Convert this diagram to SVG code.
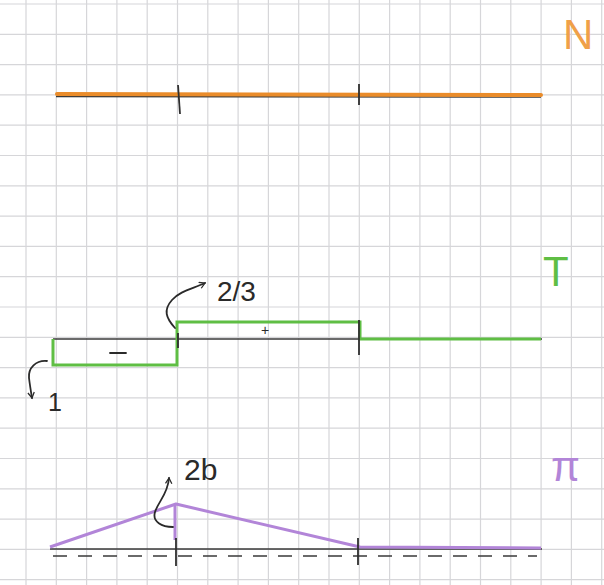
<svg xmlns="http://www.w3.org/2000/svg" width="604" height="585" viewBox="0 0 604 585">
<style>
.grid line{stroke:#d6d6d9;stroke-width:1.2}
.axis{stroke:#3a3a3a;stroke-width:1.6;fill:none}
.tick{stroke:#2e2e2e;stroke-width:1.8;fill:none}
.n{stroke:#ea8c2a;stroke-width:4;fill:none;stroke-linecap:round}
.t{stroke:#5fbe44;stroke-width:3;fill:none;stroke-linejoin:miter}
.m{stroke:#b285d8;stroke-width:3;fill:none;stroke-linejoin:round}
.pen{stroke:#2a2a2a;stroke-width:1.8;fill:none;stroke-linecap:round;stroke-linejoin:round}
.lbl{font-family:"Liberation Sans",Arial,sans-serif;fill:#2a2a2a}
.title{font-family:"Liberation Sans",Arial,sans-serif;font-size:42px}
</style>
<defs>
<marker id="ah" viewBox="0 0 10 10" refX="8" refY="5" markerWidth="8" markerHeight="8" orient="auto" markerUnits="userSpaceOnUse">
<path d="M1,1 L8,5 L1,9" fill="none" stroke="#2a2a2a" stroke-width="1.6"/>
</marker>
</defs>
<rect width="604" height="585" fill="#ffffff"/>
<g class="grid">
<line x1="26" y1="0" x2="26" y2="585"/><line x1="56.3" y1="0" x2="56.3" y2="585"/><line x1="86.6" y1="0" x2="86.6" y2="585"/><line x1="116.9" y1="0" x2="116.9" y2="585"/><line x1="147.2" y1="0" x2="147.2" y2="585"/><line x1="177.5" y1="0" x2="177.5" y2="585"/><line x1="207.8" y1="0" x2="207.8" y2="585"/><line x1="238.1" y1="0" x2="238.1" y2="585"/><line x1="268.4" y1="0" x2="268.4" y2="585"/><line x1="298.7" y1="0" x2="298.7" y2="585"/><line x1="329" y1="0" x2="329" y2="585"/><line x1="359.3" y1="0" x2="359.3" y2="585"/><line x1="389.6" y1="0" x2="389.6" y2="585"/><line x1="419.9" y1="0" x2="419.9" y2="585"/><line x1="450.2" y1="0" x2="450.2" y2="585"/><line x1="480.5" y1="0" x2="480.5" y2="585"/><line x1="510.8" y1="0" x2="510.8" y2="585"/><line x1="541.1" y1="0" x2="541.1" y2="585"/><line x1="571.4" y1="0" x2="571.4" y2="585"/><line x1="601.7" y1="0" x2="601.7" y2="585"/>
<line x1="0" y1="4" x2="604" y2="4"/><line x1="0" y1="34.3" x2="604" y2="34.3"/><line x1="0" y1="64.6" x2="604" y2="64.6"/><line x1="0" y1="94.9" x2="604" y2="94.9"/><line x1="0" y1="125.2" x2="604" y2="125.2"/><line x1="0" y1="155.5" x2="604" y2="155.5"/><line x1="0" y1="185.8" x2="604" y2="185.8"/><line x1="0" y1="216.1" x2="604" y2="216.1"/><line x1="0" y1="246.4" x2="604" y2="246.4"/><line x1="0" y1="276.7" x2="604" y2="276.7"/><line x1="0" y1="307" x2="604" y2="307"/><line x1="0" y1="337.3" x2="604" y2="337.3"/><line x1="0" y1="367.6" x2="604" y2="367.6"/><line x1="0" y1="397.9" x2="604" y2="397.9"/><line x1="0" y1="428.2" x2="604" y2="428.2"/><line x1="0" y1="458.5" x2="604" y2="458.5"/><line x1="0" y1="488.8" x2="604" y2="488.8"/><line x1="0" y1="519.1" x2="604" y2="519.1"/><line x1="0" y1="549.4" x2="604" y2="549.4"/><line x1="0" y1="579.7" x2="604" y2="579.7"/>
</g>

<g id="diagram-N">
<line class="axis" x1="56" y1="96.5" x2="541" y2="97"/>
<line class="n" x1="57" y1="94" x2="541" y2="95"/>
<line class="tick" x1="178" y1="85" x2="180" y2="114"/>
<line class="tick" x1="359" y1="84" x2="359" y2="105"/>
<text class="title" x="563" y="49" fill="#f0a048">N</text>
</g>

<g id="diagram-T">
<line class="axis" x1="53" y1="339" x2="542" y2="339"/>
<polyline class="t" points="53,339 53,365 177,365 177,322 360,322 360,339 541,339"/>
<line class="tick" x1="178" y1="333" x2="178" y2="348"/>
<line class="tick" x1="359" y1="320" x2="359" y2="355"/>
<line class="pen" x1="110" y1="353" x2="126" y2="353"/>
<text class="lbl" x="261" y="335" font-size="14">+</text>
<path class="pen" d="M175,328 C166,318 163,310 172,300 C180,291 192,289 205,283" marker-end="url(#ah)"/>
<text class="lbl" x="217" y="301" font-size="28">2/3</text>
<path class="pen" d="M47,361 C36,360 28,368 29,378 C30,386 31,392 32,398" marker-end="url(#ah)"/>
<text class="lbl" x="48" y="411" font-size="25">1</text>
<text class="title" x="543" y="286" fill="#5fbe44">T</text>
</g>

<g id="diagram-Pi">
<line class="axis" x1="50" y1="549" x2="542" y2="549"/>
<line class="axis" x1="53" y1="556" x2="537" y2="556" stroke-dasharray="14 11"/>
<polyline class="m" points="50,547 176,504 360,547 541,548"/>
<line class="m" x1="175" y1="505" x2="175" y2="540"/>
<line class="tick" x1="176" y1="538" x2="176" y2="566"/>
<line class="tick" x1="358" y1="538" x2="358" y2="565"/>
<path class="pen" d="M173,527 C162,527 152,522 155,512 C158,502 168,494 169,478" marker-end="url(#ah)"/>
<text class="lbl" x="184" y="480" font-size="30">2b</text>
<text class="title" x="551" y="481" fill="#b285d8">π</text>
</g>
</svg>
